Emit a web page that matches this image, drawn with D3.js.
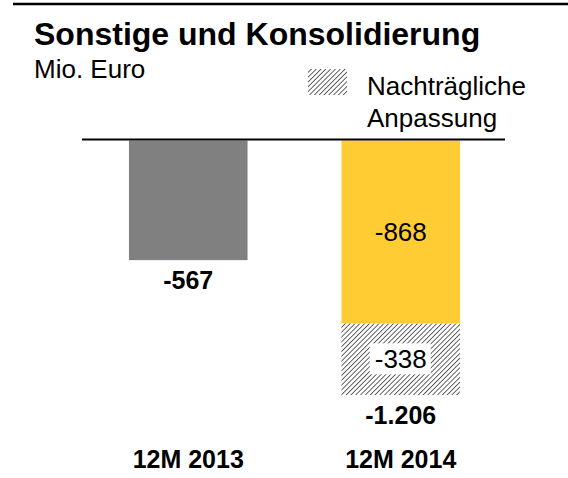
<!DOCTYPE html>
<html lang="de">
<head>
  <meta charset="UTF-8" />
  <title>Sonstige und Konsolidierung</title>
  <script src="https://d3js.org/d3.v7.min.js"></script>
  <style>
    body {
      margin: 0;
      background: #fff;
      font-family: 'Liberation Sans', Arial, sans-serif;
    }
    svg text { fill: #000; }
  </style>
</head>
<body>
<script>
  const categories = ["12M 2013", "12M 2014"];
  const baseValues = [-567, -868];
  const adjustValues = [0, -338];
  const totals = [-567, -1206];

  const width = 568, height = 478;
  const de = d3.formatLocale({ decimal: ",", thousands: ".", grouping: [3], currency: ["", " €"], minus: "-" });
  const fmt = de.format(",d");

  const svg = d3.select("body").append("svg")
    .attr("width", width)
    .attr("height", height);

  // hatch pattern for the adjustment
  const hs = 3.4;
  const pat = svg.append("defs").append("pattern")
    .attr("id", "hatch")
    .attr("patternUnits", "userSpaceOnUse")
    .attr("width", hs).attr("height", hs)
    .attr("patternTransform", "rotate(45)");
  pat.append("rect").attr("width", hs).attr("height", hs).attr("fill", "#fff");
  pat.append("line")
    .attr("x1", 0).attr("y1", 0).attr("x2", 0).attr("y2", hs)
    .attr("stroke", "#333").attr("stroke-width", 1.5);

  const x = d3.scaleBand()
    .domain(categories)
    .range([82, 507])
    .paddingInner(0.442)
    .paddingOuter(0.221);

  const y = d3.scaleLinear()
    .domain([0, -1206])
    .range([140.5, 395]);

  // top rule
  svg.append("line")
    .attr("x1", 13).attr("x2", width)
    .attr("y1", 4).attr("y2", 4)
    .attr("stroke", "#000").attr("stroke-width", 2.5);

  // title
  svg.append("text")
    .attr("x", 34).attr("y", 45)
    .attr("font-size", 32).attr("font-weight", "bold")
    .text("Sonstige und Konsolidierung");
  svg.append("text")
    .attr("x", 34).attr("y", 78)
    .attr("font-size", 26)
    .text("Mio. Euro");

  // legend
  svg.append("rect")
    .attr("x", 308).attr("y", 69)
    .attr("width", 39).attr("height", 26)
    .attr("fill", "url(#hatch)");
  const lg = svg.append("text")
    .attr("x", 367).attr("y", 95)
    .attr("font-size", 26);
  lg.append("tspan").attr("x", 367).text("Nachträgliche");
  lg.append("tspan").attr("x", 367).attr("dy", 32).text("Anpassung");

  // base bars
  svg.selectAll(".bar")
    .data(categories)
    .join("rect")
    .attr("class", "bar")
    .attr("x", d => x(d))
    .attr("width", x.bandwidth())
    .attr("y", y(0))
    .attr("height", (d, i) => y(baseValues[i]) - y(0))
    .attr("fill", (d, i) => i === 0 ? "#808080" : "#ffcc33");

  // adjustment bars
  svg.selectAll(".adj")
    .data(categories.filter((d, i) => adjustValues[i] !== 0))
    .join("rect")
    .attr("class", "adj")
    .attr("x", d => x(d))
    .attr("width", x.bandwidth())
    .attr("y", d => y(baseValues[categories.indexOf(d)]))
    .attr("height", d => {
      const i = categories.indexOf(d);
      return y(baseValues[i] + adjustValues[i]) - y(baseValues[i]);
    })
    .attr("fill", "url(#hatch)");

  // zero line
  svg.append("line")
    .attr("x1", 82).attr("x2", 505)
    .attr("y1", y(0) - 1).attr("y2", y(0) - 1)
    .attr("stroke", "#000").attr("stroke-width", 2);

  categories.forEach((c, i) => {
    const cx = x(c) + x.bandwidth() / 2;
    if (adjustValues[i] !== 0) {
      svg.append("text")
        .attr("x", cx).attr("y", (y(0) + y(baseValues[i])) / 2 + 9)
        .attr("text-anchor", "middle")
        .attr("font-size", 26)
        .text(fmt(baseValues[i]));
      const ym = (y(baseValues[i]) + y(baseValues[i] + adjustValues[i])) / 2;
      svg.append("rect")
        .attr("x", cx - 31).attr("y", ym - 16)
        .attr("width", 61).attr("height", 31)
        .attr("fill", "#fff");
      svg.append("text")
        .attr("x", cx).attr("y", ym + 9)
        .attr("text-anchor", "middle")
        .attr("font-size", 26)
        .text(fmt(adjustValues[i]));
    }
    svg.append("text")
      .attr("x", cx).attr("y", y(totals[i]) + 29)
      .attr("text-anchor", "middle")
      .attr("font-size", 25).attr("font-weight", "bold")
      .text(fmt(totals[i]));
    svg.append("text")
      .attr("x", cx).attr("y", 468)
      .attr("text-anchor", "middle")
      .attr("font-size", 25).attr("font-weight", "bold")
      .text(c);
  });
</script>
</body>
</html>
